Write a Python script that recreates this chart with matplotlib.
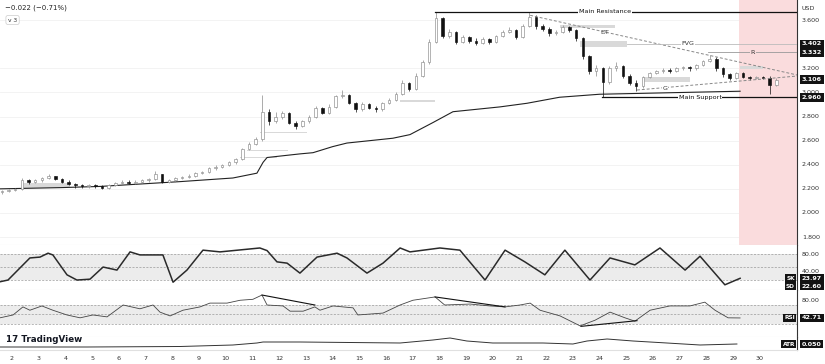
import matplotlib
matplotlib.use("Agg")
import matplotlib.pyplot as plt
import matplotlib.transforms as mtransforms
from matplotlib.patches import Rectangle

# ---- data (x in days of the month) ----
first_open = 2.17
t_start, t_step = 1.62, 0.25   # 6h candles

closes = [2.18, 2.19, 2.20, 2.27, 2.26, 2.27, 2.29, 2.31, 2.28, 2.26,
          2.24, 2.23, 2.22, 2.23, 2.22, 2.21, 2.23, 2.25, 2.26, 2.25,
          2.26, 2.27, 2.28, 2.32, 2.26, 2.27, 2.29, 2.30, 2.31, 2.33,
          2.34, 2.37, 2.38, 2.40, 2.42, 2.45, 2.53, 2.57, 2.61, 2.84,
          2.76, 2.80, 2.83, 2.75, 2.72, 2.76, 2.80, 2.87, 2.83, 2.88,
          2.97, 2.98, 2.91, 2.86, 2.90, 2.87, 2.86, 2.91, 2.94, 2.99,
          3.08, 3.03, 3.14, 3.25, 3.42, 3.62, 3.47, 3.50, 3.42, 3.46,
          3.43, 3.41, 3.44, 3.42, 3.47, 3.50, 3.52, 3.46, 3.55, 3.63,
          3.55, 3.53, 3.49, 3.50, 3.54, 3.52, 3.45, 3.30, 3.18, 3.20,
          3.09, 3.20, 3.22, 3.14, 3.08, 3.05, 3.13, 3.16, 3.18, 3.19,
          3.18, 3.20, 3.21, 3.20, 3.23, 3.26, 3.28, 3.20, 3.15, 3.12,
          3.16, 3.13, 3.12, 3.13, 3.12, 3.06, 3.106]
highs = [2.19, 2.20, 2.21, 2.29, 2.28, 2.28, 2.30, 2.32, 2.31, 2.29,
         2.27, 2.25, 2.24, 2.24, 2.24, 2.23, 2.24, 2.26, 2.27, 2.27,
         2.27, 2.28, 2.29, 2.35, 2.32, 2.28, 2.30, 2.31, 2.32, 2.34,
         2.35, 2.38, 2.40, 2.41, 2.43, 2.46, 2.54, 2.59, 2.63, 2.98,
         2.86, 2.84, 2.85, 2.84, 2.76, 2.77, 2.81, 2.89, 2.88, 2.90,
         2.98, 3.02, 2.99, 2.92, 2.92, 2.91, 2.89, 2.92, 2.95, 3.00,
         3.10, 3.09, 3.16, 3.27, 3.44, 3.67, 3.63, 3.53, 3.51, 3.48,
         3.47, 3.45, 3.46, 3.45, 3.48, 3.52, 3.54, 3.53, 3.57, 3.67,
         3.64, 3.57, 3.54, 3.52, 3.56, 3.55, 3.53, 3.46, 3.31, 3.23,
         3.21, 3.22, 3.25, 3.23, 3.15, 3.10, 3.14, 3.17, 3.19, 3.20,
         3.20, 3.21, 3.22, 3.22, 3.24, 3.27, 3.31, 3.29, 3.21, 3.16,
         3.17, 3.17, 3.14, 3.14, 3.14, 3.14, 3.12]
lows = [2.16, 2.17, 2.18, 2.19, 2.24, 2.25, 2.26, 2.28, 2.27, 2.25,
        2.23, 2.21, 2.21, 2.21, 2.21, 2.20, 2.20, 2.22, 2.24, 2.24,
        2.24, 2.25, 2.26, 2.27, 2.25, 2.25, 2.26, 2.28, 2.29, 2.30,
        2.32, 2.33, 2.36, 2.37, 2.39, 2.41, 2.44, 2.52, 2.56, 2.60,
        2.73, 2.75, 2.78, 2.74, 2.70, 2.71, 2.75, 2.79, 2.82, 2.82,
        2.87, 2.95, 2.90, 2.84, 2.85, 2.86, 2.84, 2.85, 2.90, 2.93,
        2.98, 3.01, 3.02, 3.13, 3.24, 3.41, 3.45, 3.45, 3.40, 3.41,
        3.41, 3.39, 3.40, 3.40, 3.41, 3.46, 3.49, 3.44, 3.45, 3.54,
        3.53, 3.51, 3.47, 3.48, 3.49, 3.50, 3.43, 3.28, 3.15, 3.14,
        2.96, 3.07, 3.18, 3.12, 3.06, 3.01, 3.04, 3.12, 3.15, 3.16,
        3.16, 3.17, 3.19, 3.18, 3.19, 3.22, 3.25, 3.18, 3.13, 3.10,
        3.11, 3.12, 3.10, 3.11, 3.11, 2.99, 3.05]

ma_t = [1.55, 3.8, 5.3, 8.3, 10.27, 11.17, 11.4, 11.55, 12.78, 13.27, 14.0,
        14.54, 16.26, 16.9, 17.76, 18.51, 20.27, 21.28, 22.5, 24.0, 29.26]
ma_v = [2.20, 2.21, 2.22, 2.26, 2.29, 2.33, 2.42, 2.46, 2.49, 2.50, 2.55,
        2.58, 2.62, 2.65, 2.75, 2.84, 2.88, 2.91, 2.96, 2.985, 3.01]

stoch_t = [1.55, 1.85, 2.67, 3.05, 3.35, 3.53, 4.06, 4.43, 4.92, 5.41, 5.93,
           6.42, 6.79, 7.65, 8.03, 8.55, 9.15, 9.79, 11.28, 11.55, 11.92,
           12.3, 12.78, 13.42, 14.17, 14.54, 15.29, 15.89, 16.53, 16.9,
           17.28, 18.02, 18.77, 19.71, 20.46, 21.2, 21.95, 22.7, 23.64,
           24.39, 25.32, 26.26, 27.2, 27.76, 28.69, 29.26]
stoch_v = [16, 20, 71, 73, 82, 78, 32, 20, 22, 50, 43, 85, 78, 78, 15, 43,
           89, 85, 94, 88, 62, 59, 36, 73, 82, 71, 36, 59, 94, 85, 88, 94,
           89, 20, 89, 62, 32, 89, 20, 71, 55, 94, 43, 75, 9, 24]

rsi_t = [1.55, 2.04, 2.41, 2.67, 3.12, 3.53, 4.06, 4.55, 5.03, 5.56, 6.16,
         6.79, 7.28, 7.54, 7.92, 8.4, 9.04, 9.41, 10.05, 10.54, 11.02,
         11.36, 11.55, 12.15, 12.41, 12.9, 13.34, 13.53, 14.02, 14.77,
         14.95, 15.89, 16.53, 17.01, 17.84, 18.2, 19.15, 19.9, 20.46,
         21.02, 21.4, 21.77, 22.52, 23.27, 23.83, 24.39, 24.95, 25.32,
         25.89, 26.63, 27.38, 27.94, 28.32, 28.81, 29.26]
rsi_v = [43, 49, 66, 59, 68, 59, 49, 43, 49, 45, 70, 62, 70, 55, 47, 59, 66,
         74, 74, 80, 82, 91, 70, 68, 57, 57, 66, 59, 68, 64, 49, 53, 70, 80,
         87, 70, 72, 68, 66, 70, 74, 59, 47, 26, 38, 55, 43, 36, 59, 68, 68,
         76, 59, 43, 42.71]
rsi_div = [((11.36, 91), (13.34, 70)), ((17.84, 87), (20.46, 66)),
           ((23.3, 25), (25.4, 37))]

atr_t = [1.55, 4.81, 8.29, 10.27, 11.17, 11.4, 12.78, 15.03, 16.53, 17.76,
         18.4, 19.03, 20.0, 21.88, 23.0, 23.53, 24.28, 25.25, 26.52, 27.76,
         29.14]
atr_v = [0.035, 0.035, 0.0375, 0.045, 0.055, 0.06, 0.06, 0.057, 0.055, 0.07,
         0.08, 0.065, 0.055, 0.055, 0.05, 0.065, 0.075, 0.065, 0.055, 0.045,
         0.05]

# gray FVG / order-block zones: (t0, t1, p0, p1)
zones = [(23.27, 25.03, 3.377, 3.427), (22.5, 24.58, 3.535, 3.56),
         (25.62, 27.38, 3.086, 3.128), (29.26, 30.1, 3.194, 3.219),
         (11.28, 13.04, 2.660, 2.672), (10.54, 11.92, 2.455, 2.466),
         (10.8, 12.33, 2.517, 2.523), (9.3, 10.9, 2.337, 2.343),
         (2.41, 4.17, 2.207, 2.248), (13.9, 14.9, 2.851, 2.857),
         (16.26, 16.9, 2.934, 2.940), (16.9, 18.29, 3.017, 3.023),
         (16.53, 17.84, 2.920, 2.937), (11.28, 12.9, 2.602, 2.608)]

main_res, main_sup = 3.67, 2.96
fvg_level, r_level = 3.402, 3.332
dt_line = ((21.4, 3.64), (31.39, 3.145))
g_line = ((25.4, 3.02), (31.39, 3.136))
red_zone_start = 29.22

price_ticks = [3.600, 3.200, 3.000, 2.800, 2.600, 2.400, 2.200, 2.000, 1.800]
boxed_prices = [3.402, 3.332, 3.106, 2.960]
days = list(range(2, 31))

# ---- layout ----
W, H = 825, 364
fig = plt.figure(figsize=(W / 100, H / 100), dpi=100)
fig.patch.set_facecolor("white")


def px_axes(x0, y0, x1, y1):
    return fig.add_axes([x0 / W, 1 - y1 / H, (x1 - x0) / W, (y1 - y0) / H])


ax = px_axes(0, 0, 797, 245)
ax_st = px_axes(0, 245, 797, 290)
ax_rsi = px_axes(0, 290, 797, 337)
ax_atr = px_axes(0, 337, 797, 350)

XL = (1.551, 31.39)
for a in (ax, ax_st, ax_rsi, ax_atr):
    a.set_xlim(*XL)
    a.set_yticks([])
    a.set_xticks([])
    for s in ("left", "top"):
        a.spines[s].set_visible(False)
    a.spines["bottom"].set_color("#e0e0e0")
    a.spines["bottom"].set_linewidth(0.8)
    a.spines["right"].set_color("#333333")
    a.spines["right"].set_linewidth(0.8)

ax.set_ylim(1.734, 3.767)
ax_st.set_ylim(-3.0, 100.9)
ax_rsi.set_ylim(2.6, 101.6)
ax_atr.set_ylim(0.02, 0.085)

FS = 4.6
lab_col = "#333333"

# ---- main price panel ----
for p in price_ticks:
    ax.axhline(p, color="#f1f1f1", lw=0.6, zorder=0)
ax.axvspan(red_zone_start, XL[1], color="#fadcdd", zorder=0.5, lw=0)

for (t0, t1, p0, p1) in zones:
    ax.add_patch(Rectangle((t0, p0), t1 - t0, p1 - p0, facecolor="#d9d9d9",
                           edgecolor="none", zorder=1))

ax.plot(ma_t, ma_v, color="#222222", lw=0.8, zorder=2)

opens = [first_open] + closes[:-1]
for i, (o, c, h, l) in enumerate(zip(opens, closes, highs, lows)):
    t = t_start + i * t_step
    up = c >= o
    col = "#8a8a8a" if up else "#111111"
    ax.vlines(t, l, h, color=col, lw=0.5, zorder=3)
    body = max(abs(c - o), 0.004)
    ax.bar(t, body, bottom=min(o, c), width=0.095,
           facecolor="white" if up else "#111111", edgecolor=col,
           linewidth=0.45, zorder=4)

right_edge = XL[1]
txt_box = dict(boxstyle="square,pad=0.15", fc="white", ec="none")
# main resistance
ax.plot([17.84, right_edge], [main_res, main_res], color="#111111", lw=0.9, zorder=5)
ax.text(24.2, main_res, "Main Resistance", fontsize=FS, ha="center", va="center",
        color="#111111", bbox=txt_box, zorder=6)
# main support
ax.plot([24.09, right_edge], [main_sup, main_sup], color="#111111", lw=0.9, zorder=5)
ax.text(27.76, main_sup, "Main Support", fontsize=FS, ha="center", va="center",
        color="#111111", bbox=txt_box, zorder=6)
# DT dashed
(dx0, dy0), (dx1, dy1) = dt_line
ax.plot([dx0, dx1], [dy0, dy1], color="#888888", lw=0.7, ls=(0, (3, 2)), zorder=5)
ax.text(24.2, 3.495, "DT", fontsize=FS, ha="center", va="center", color="#444444",
        zorder=6)
# FVG and R levels
ax.plot([25.03, right_edge], [fvg_level, fvg_level], color="#bbbbbb", lw=0.6, zorder=5)
ax.text(27.31, fvg_level, "FVG", fontsize=FS, ha="center", va="center",
        color="#333333", bbox=txt_box, zorder=6)
ax.plot([28.05, right_edge], [r_level, r_level], color="#999999", lw=0.6, zorder=5)
ax.text(29.74, r_level, "R", fontsize=FS, ha="center", va="center",
        color="#333333", bbox=dict(boxstyle="square,pad=0.15", fc="#fadcdd", ec="none"),
        zorder=6)
# G ascending dashed
(gx0, gy0), (gx1, gy1) = g_line
ax.plot([gx0, gx1], [gy0, gy1], color="#888888", lw=0.7, ls=(0, (3, 2)), zorder=5)
ax.text(26.45, 3.035, "G", fontsize=FS, ha="center", va="center",
        color="#333333", bbox=txt_box, zorder=6)

# price axis labels
tr = mtransforms.blended_transform_factory(ax.transAxes, ax.transData)
xr = 1 + 5 / 797
for p in price_ticks:
    ax.text(xr, p, f"{p:.3f}", transform=tr, fontsize=FS, ha="left", va="center",
            color=lab_col, clip_on=False)
for p in boxed_prices:
    ax.text(xr, p, f"{p:.3f}", transform=tr, fontsize=FS, ha="left", va="center",
            color="white", clip_on=False, fontweight="bold",
            bbox=dict(boxstyle="square,pad=0.3", fc="#131313", ec="none"), zorder=10)
ax.text(xr, 1 - 8 / 245, "USD", transform=ax.transAxes, fontsize=FS, ha="left",
        va="center", color=lab_col, clip_on=False)

# ---- stochastic ----
ax_st.axhspan(20, 80, color="#ececec", zorder=0, lw=0)
for lv in (20, 50, 80):
    ax_st.axhline(lv, color="#9a9a9a", lw=0.5, ls=(0, (3, 2)), zorder=1)
ax_st.plot(stoch_t, stoch_v, color="#2a2a2a", lw=1.1, zorder=3)

# ---- RSI ----
ax_rsi.axhspan(30, 70, color="#ececec", zorder=0, lw=0)
for lv in (30, 50, 70):
    ax_rsi.axhline(lv, color="#9a9a9a", lw=0.5, ls=(0, (3, 2)), zorder=1)
ax_rsi.plot(rsi_t, rsi_v, color="#444444", lw=0.6, zorder=3)
for (a0, a1) in rsi_div:
    ax_rsi.plot([a0[0], a1[0]], [a0[1], a1[1]], color="#111111", lw=0.8, zorder=4)

# ---- ATR ----
ax_atr.plot(atr_t, atr_v, color="#333333", lw=0.7)


def side_labels(a, plain, boxed):
    t = mtransforms.blended_transform_factory(a.transAxes, a.transData)
    for v, s in plain:
        a.text(xr, v, s, transform=t, fontsize=FS, ha="left", va="center",
               color=lab_col, clip_on=False)
    for v, tag, s in boxed:
        a.text(1 - 2 / 797, v, tag, transform=t, fontsize=FS - 0.4, ha="right",
               va="center", color="white", clip_on=False, fontweight="bold",
               bbox=dict(boxstyle="square,pad=0.25", fc="#131313", ec="none"))
        a.text(xr, v, s, transform=t, fontsize=FS, ha="left", va="center",
               color="white", clip_on=False, fontweight="bold",
               bbox=dict(boxstyle="square,pad=0.25", fc="#131313", ec="none"))


side_labels(ax_st, [(80, "80.00"), (40, "40.00")],
            [(23.97, "SK", "23.97"), (5.5, "SD", "22.60")])
side_labels(ax_rsi, [(80, "80.00")], [(42.71, "RSI", "42.71")])
side_labels(ax_atr, [], [(0.050, "ATR", "0.050")])

# x axis day labels
ax_atr.set_xticks(days)
ax_atr.set_xticklabels([str(d) for d in days], fontsize=FS, color=lab_col)
ax_atr.tick_params(axis="x", length=0, pad=4)

# header and logo
fig.text(5 / W, 1 - 8 / H, "\u22120.022 (\u22120.71%)", fontsize=5, va="center",
         color="#222222")
fig.text(8 / W, 1 - 20 / H, "v 3", fontsize=4.3, va="center", color="#333333",
         bbox=dict(boxstyle="round,pad=0.35", fc="white", ec="#cccccc", lw=0.5))
fig.text(6 / W, 1 - 339 / H, "17 TradingView", fontsize=6.3, fontweight="bold",
         va="center", color="#131722",
         bbox=dict(boxstyle="square,pad=0.2", fc="white", ec="none"))

fig.savefig("out.png", dpi=100, facecolor="white")
